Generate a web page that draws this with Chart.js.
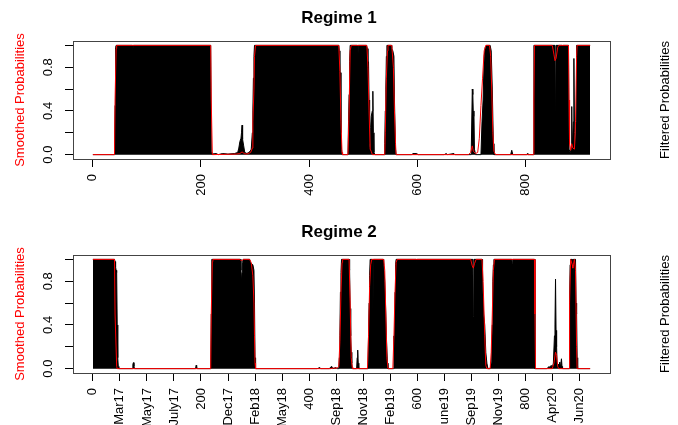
<!DOCTYPE html>
<html>
<head>
<meta charset="utf-8">
<title>Regime probabilities</title>
<script src="https://cdn.jsdelivr.net/npm/chart.js@4.4.1/dist/chart.umd.min.js"></script>
<style>
  html, body { margin: 0; padding: 0; background: #fff; overflow: hidden; }
  canvas { display: block; }
</style>
</head>
<body>
<canvas id="regime1" width="678" height="214"></canvas>
<canvas id="regime2" width="678" height="211"></canvas>
<script>
// ---- ticks ----
const ticksTop = [0, 200, 400, 600, 800];
const labelsTop = ['0', '200', '400', '600', '800'];
const ticksBottom = [0, 50, 100, 150, 200, 250, 300, 350, 400, 450, 500, 550, 600, 650, 700, 750, 800, 850, 900];
const labelsBottom = ['0', 'Mar17', 'May17', 'July17', '200', 'Dec17', 'Feb18', 'May18', '400', 'Sep18',
  'Nov18', 'Feb19', '600', 'June19', 'Sep19', 'Nov19', '800', 'Apr20', 'Jun20'];
const yTicks = [0, 0.2, 0.4, 0.6, 0.8, 1];
const yLabels = ['0.0', '', '0.4', '', '0.8', ''];

// ---- series: [time index, probability] ----
const r1Smooth = [
  [0,0],[40,0],[41,0.5],[43,0.97],[44,1],
  [218,1],[219,0.5],[221,0],
  [265,0.005],[272,0.01],[276,0.025],[280,0.01],[285,0.005],[292,0.02],[295,0.06],[296,0.3],[298,0.6],[299,0.9],[301,1],
  [455,1],[457,0.76],[459,0.3],[461,0.02],[462,0],
  [472,0],[474,0.4],[476,0.95],[478,1],
  [507,1],[509,0.8],[511,0.4],[513,0.05],[515,0.03],[517,0],
  [540,0],[541,0.2],[543,0.7],[545,0.95],[546,1],[553,1],[556,0.8],[558,0.4],[560,0.1],[561,0],
  [695,0],[699,0.02],[702,0.08],[704,0.03],[708,0.01],[712,0.02],[715,0.15],[718,0.45],[721,0.7],[724,0.95],[727,1],
  [734,1],[736,0.9],[738,0.6],[740,0.2],[742,0.03],[745,0],
  [815,0],[816,0.5],[817,1],
  [850,1],[853,0.92],[855,0.86],[857,0.88],[860,0.98],[862,1],
  [880,1],[881,0.5],[882,0.1],[884,0.04],[886,0.1],[888,0.06],[891,0.05],[893,0.3],[895,0.9],[896,1],[920,1]
];
const r1Filt = [
  [0,0],[40,0],[41,0.45],[42,0.98],[43,1],
  [73,1],[74,0.96],[75,1],
  [218,1],[219,0.02],[220,0.005],
  [228,0.01],[232,0],[240,0.01],[250,0.005],[262,0.01],[268,0.02],[270,0.06],[272,0.12],[274,0.15],[275,0.2],[276,0.27],
  [277,0.14],[279,0.08],[281,0.02],[285,0.01],[288,0.02],[291,0.03],[293,0.05],[295,0.2],[296,0.4],[297,0.7],[298,0.9],[299,1],
  [455,1],[456,0.95],[457,0.7],[458,0.75],[459,0.2],[460,0.05],[461,0],
  [472,0],[473,0.3],[474,0.55],[475,0.85],[476,1],
  [489,1],[490,0.84],[491,1],
  [506,1],[508,0.97],[509,0.7],[510,0.85],[511,0.5],[512,0.1],[513,0.05],[514,0.25],[515,0.35],[517,0.4],[518,0.58],
  [519,0.2],[520,0.02],[522,0],
  [539,0],[540,0.1],[541,0.4],[542,0.6],[543,0.9],[544,1],[552,1],[553,0.97],[555,0.95],[557,0.9],[558,0.5],[560,0.05],[561,0],
  [590,0],[592,0.01],[599,0.01],[602,0],[650,0],[654,0.01],[656,0],[668,0.01],[670,0],
  [700,0],[702,0.6],[703,0.55],[704,0.35],[705,0.4],[706,0.05],[708,0],
  [718,0],[720,0.3],[722,0.5],[724,0.9],[726,0.98],[728,1],[735,1],[737,0.95],[739,0.6],[741,0.1],[742,0],
  [773,0],[775,0.04],[777,0],[803,0],[804,0.01],[805,0],
  [815,0],[816,1],
  [855,1],[856,0.23],[857,1],[868,1],[869,0.92],[870,1],
  [880,1],[881,0.05],[883,0.02],[885,0.05],[886,0.44],[887,0.05],[889,0.3],[890,0.88],[891,0.2],[893,0.05],[894,0.3],[895,1],[920,1]
];
const r2Smooth = [
  [0,1],[40,1],[41,0.5],[44,0.02],[45,0],
  [218,0],[219,0.5],[221,0.98],[222,1],
  [272,1],[275,0.985],[278,1],
  [290,1],[293,0.97],[296,0.85],[298,0.6],[299,0.3],[300,0.05],[301,0],
  [440,0],[445,0.005],[452,0.005],[455,0.02],[457,0.25],[459,0.7],[461,0.97],[462,1],
  [474,1],[476,0.6],[478,0.1],[480,0.01],[481,0],
  [508,0],[510,0.3],[512,0.75],[514,0.95],[516,1],
  [538,1],[540,0.9],[542,0.5],[544,0.1],[546,0],
  [555,0],[557,0.3],[559,0.7],[561,0.97],[563,1],
  [699,1],[702,0.94],[704,0.92],[706,0.96],[709,1],
  [720,1],[722,0.8],[725,0.3],[727,0.03],[729,0],[735,0],[737,0.15],[739,0.5],[741,0.9],[743,1],
  [817,1],[818,0.5],[819,0],
  [850,0],[853,0.05],[856,0.15],[858,0.12],[860,0.02],[862,0],
  [881,0],[882,0.6],[884,1],[887,0.95],[888,0.92],[889,0.95],[891,1],[893,0.9],[895,0.2],[896,0],[920,0]
];
const r2Filt = [
  [0,1],[40,1],[41,0.98],[42,0.93],[43,0.9],[44,0.88],[45,0.4],[46,0.1],[47,0.02],[48,0],
  [73,0],[74,0.04],[75,0.055],[76,0.02],[77,0],
  [190,0],[191,0.03],[192,0.02],[193,0],
  [218,0],[219,0.5],[220,1],
  [273,1],[274,0.9],[275,0.8],[276,0.88],[277,0.97],[278,1],
  [290,1],[292,0.97],[294,0.96],[296,0.95],[298,0.9],[299,0.6],[300,0.1],[301,0],
  [415,0],[420,0.01],[421,0],[438,0],[440,0.015],[442,0.02],[444,0],[450,0.01],[452,0],
  [455,0],[456,0.1],[457,0.3],[458,0.7],[459,0.88],[460,1],
  [474,1],[475,0.9],[476,0.55],[477,0.3],[478,0.15],[479,0.05],[480,0],
  [488,0],[489,0.1],[490,0.17],[491,0.05],[492,0],
  [509,0],[510,0.3],[511,0.6],[512,0.85],[513,1],[517,1],[518,0.45],[519,1],
  [537,1],[538,0.95],[540,0.8],[542,0.5],[543,0.3],[545,0.05],[546,0],
  [556,0],[557,0.3],[558,0.15],[559,0.7],[560,0.95],[561,1],
  [598,1],[599,0.98],[600,1],
  [703,1],[704,0.48],[705,1],
  [720,1],[721,0.8],[723,0.5],[725,0.4],[727,0.15],[729,0.05],[731,0],
  [735,0],[737,0.05],[738,0.2],[739,0.4],[740,0.8],[741,0.95],[742,1],
  [775,1],[776,0.96],[777,1],
  [817,1],[818,0],
  [840,0],[842,0.01],[844,0.02],[846,0.01],[848,0.03],[850,0.01],[852,0.05],[854,0.3],[855,0.4],[856,0.82],[857,0.35],
  [858,0.2],[859,0.03],[861,0.04],[862,0.02],[864,0.06],[865,0.01],[867,0.09],[868,0.02],[869,0],
  [881,0],[882,0.62],[883,0.95],[884,1],[887,1],[888,0.76],[889,1],[893,1],[894,0.6],[895,0.5],[896,0.1],[897,0],[920,0]
];

const FONT = '"Liberation Sans", Arial, sans-serif';
Chart.defaults.font.family = FONT;
Chart.defaults.font.size = 13;
Chart.defaults.color = '#000';

const PLOT_LEFT = 73;     // width of the left margin
const PLOT_RIGHT = 68;    // width of the right margin
const PLOT_BOTTOM = 159;  // bottom edge of the plot region in each canvas

const toXY = arr => arr.map(([t, p]) => ({ x: t, y: p }));

// text on the right side, reading upwards like R's mtext(side = 4)
const rightLabel = {
  id: 'rightLabel',
  afterDraw(chart, args, opts) {
    const { ctx, chartArea } = chart;
    ctx.save();
    ctx.translate(665, (chartArea.top + chartArea.bottom) / 2);
    ctx.rotate(-Math.PI / 2);
    ctx.font = '13px ' + FONT;
    ctx.fillStyle = '#000';
    ctx.textAlign = 'center';
    ctx.textBaseline = 'middle';
    ctx.fillText(opts.text, 0, 0);
    ctx.restore();
  }
};

// box round the plot region
const plotBox = {
  id: 'plotBox',
  afterDatasetsDraw(chart) {
    const { ctx, chartArea: a } = chart;
    ctx.save();
    ctx.strokeStyle = '#444';
    ctx.lineWidth = 1;
    ctx.strokeRect(Math.round(a.left) + 0.5, Math.round(a.top) + 0.5, Math.round(a.width), Math.round(a.height));
    ctx.restore();
  }
};

function makeChart(id, title, smooth, filt, xTicks, xLabels) {
  return new Chart(document.getElementById(id), {
    type: 'line',
    data: {
      datasets: [
        {
          label: 'Smoothed',
          data: toXY(smooth),
          borderColor: '#ff0000',
          borderWidth: 1,
          pointRadius: 0,
          fill: false,
          order: 0
        },
        {
          label: 'Filtered',
          data: toXY(filt),
          borderColor: '#000',
          backgroundColor: '#000',
          borderWidth: 1,
          pointRadius: 0,
          fill: 'origin',
          order: 1
        }
      ]
    },
    options: {
      responsive: false,
      animation: false,
      events: [],
      layout: { padding: 0 },
      plugins: {
        legend: { display: false },
        tooltip: { enabled: false },
        title: {
          display: true,
          text: title,
          color: '#000',
          font: { size: 17, weight: 'bold' },
          padding: { top: 8, bottom: 12.6 }
        },
        rightLabel: { text: 'Filtered Probabilities' }
      },
      scales: {
        x: {
          type: 'linear',
          min: -36.8,
          max: 956.8,
          afterBuildTicks: s => { s.ticks = xTicks.map(v => ({ value: v })); },
          afterFit: s => { s.height = s.chart.height - PLOT_BOTTOM; s.paddingLeft = 0; s.paddingRight = 0; },
          grid: { drawOnChartArea: false, drawTicks: true, tickLength: 8, color: '#000' },
          border: { display: false },
          ticks: {
            autoSkip: false,
            minRotation: 90,
            maxRotation: 90,
            padding: 7,
            color: '#000',
            callback: (v, i) => xLabels[i]
          }
        },
        y: {
          min: -0.04,
          max: 1.04,
          afterBuildTicks: s => { s.ticks = yTicks.map(v => ({ value: v })); },
          afterFit: s => { s.width = PLOT_LEFT; s.paddingTop = 0; s.paddingBottom = 0; },
          grid: { drawOnChartArea: false, drawTicks: true, tickLength: 8, color: '#000' },
          border: { display: false },
          ticks: {
            minRotation: 90,
            maxRotation: 90,
            crossAlign: 'center',
            padding: 8,
            color: '#000',
            callback: (v, i) => yLabels[i]
          },
          title: {
            display: true,
            text: 'Smoothed Probabilities',
            color: '#ff0000',
            font: { size: 13 },
            padding: { top: 13, bottom: 0 }
          }
        },
        // empty right margin, keeps the title centred over the whole figure
        yRight: {
          position: 'right',
          min: 0,
          max: 1,
          afterFit: s => { s.width = PLOT_RIGHT; s.paddingTop = 0; s.paddingBottom = 0; },
          grid: { display: false, drawTicks: false },
          border: { display: false },
          ticks: { display: false }
        }
      }
    },
    plugins: [plotBox, rightLabel]
  });
}

makeChart('regime1', 'Regime 1', r1Smooth, r1Filt, ticksTop, labelsTop);
makeChart('regime2', 'Regime 2', r2Smooth, r2Filt, ticksBottom, labelsBottom);
</script>
</body>
</html>
